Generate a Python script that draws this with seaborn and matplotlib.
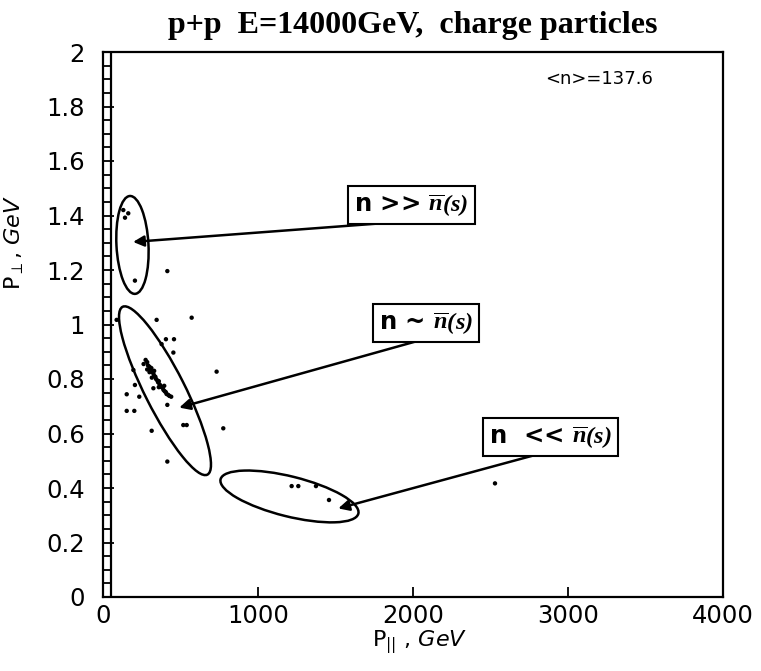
import numpy as np
import pandas as pd
import seaborn as sns
import matplotlib
matplotlib.use("Agg")
import matplotlib.pyplot as plt
from matplotlib.patches import Ellipse
import matplotlib.transforms as mtransforms

# ---------------- data ----------------
# scattered individual particles (P_par GeV, P_perp GeV)
p_par = [131, 142, 163, 415, 206,
         88, 346, 572, 406, 458, 378, 454, 733,
         196, 206, 153, 234, 325, 415, 153, 202, 518, 540, 776, 314, 415,
         1217, 1260, 1374, 1458, 2529,
         275, 285, 290, 300, 305, 312, 318, 325, 330, 338, 342, 350, 355, 360,
         365, 372, 378, 385, 390, 398, 405, 410, 420, 428, 440,
         300, 330, 360, 395, 262, 285, 315]
p_perp = [1.420, 1.392, 1.408, 1.196, 1.161,
          1.017, 1.017, 1.025, 0.946, 0.946, 0.928, 0.897, 0.827,
          0.833, 0.778, 0.744, 0.735, 0.766, 0.705, 0.683, 0.683, 0.631, 0.631, 0.619, 0.610, 0.497,
          0.407, 0.407, 0.407, 0.356, 0.417,
          0.870, 0.862, 0.850, 0.845, 0.835, 0.840, 0.826, 0.820, 0.812, 0.808, 0.800, 0.795, 0.788, 0.792,
          0.780, 0.775, 0.770, 0.768, 0.760, 0.755, 0.752, 0.745, 0.742, 0.738, 0.735,
          0.825, 0.830, 0.770, 0.775, 0.855, 0.835, 0.805]

# dense band of particles at very small P_par
band_par = [50, 50]
band_perp = [0.0, 2.0]

x_ticks = [0, 1000, 2000, 3000, 4000]
x_tick_labels = ["0", "1000", "2000", "3000", "4000"]
y_ticks = [0, 0.2, 0.4, 0.6, 0.8, 1.0, 1.2, 1.4, 1.6, 1.8, 2.0]
y_tick_labels = ["0", "0.2", "0.4", "0.6", "0.8", "1", "1.2", "1.4", "1.6", "1.8", "2"]

# annotation groups: label, box centre, arrow tail, arrow head, ellipse centre, ellipse (w, h, angle) in px
groups = ["n >> ", "n ~ ", "n  << "]
box_x = [1990, 2082, 2887]
box_y = [1.440, 1.006, 0.587]
tail_x = [1903, 2013, 2787]
tail_y = [1.376, 0.937, 0.521]
head_x = [194, 492, 1518]
head_y = [1.303, 0.695, 0.325]
ell_x = [190, 400, 1203]
ell_y = [1.292, 0.757, 0.369]
ell_w = [98, 188, 142]
ell_h = [32, 40, 40]
ell_a = [93, -63.2, -14]

mean_n = "<n>=137.6"

# ---------------- plot ----------------
sns.set_style("ticks")
plt.rcParams["font.family"] = ["DejaVu Sans"]
plt.rcParams["mathtext.fontset"] = "custom"
plt.rcParams["mathtext.rm"] = "DejaVu Sans"
plt.rcParams["mathtext.it"] = "DejaVu Sans:italic"
plt.rcParams["mathtext.cal"] = "Liberation Serif:italic:bold"
for k in ["text.color", "axes.labelcolor", "xtick.color", "ytick.color", "axes.edgecolor"]:
    plt.rcParams[k] = "black"

fig = plt.figure(figsize=(7.61, 6.71), dpi=100)
ax = fig.add_axes([103 / 761, 1 - 597 / 671, 620 / 761, 545 / 671])

df = pd.DataFrame({"ppar": p_par, "pperp": p_perp})
sns.scatterplot(data=df, x="ppar", y="pperp", ax=ax, color="black",
                s=10, edgecolor="none", linewidth=0, zorder=3)
sns.lineplot(x=band_par, y=band_perp, ax=ax, color="black", lw=1.6,
             estimator=None, sort=False)

ax.set_xlim(0, 4000)
ax.set_ylim(0, 2)
ax.set_xticks(x_ticks)
ax.set_xticklabels(x_tick_labels)
ax.set_yticks(y_ticks)
ax.set_yticklabels(y_tick_labels)
ax.set_yticks(np.arange(0, 2.0001, 0.05), minor=True)
ax.tick_params(axis="x", which="major", direction="in", length=7, width=1.3,
               labelsize=17.5, pad=5, top=False)
ax.tick_params(axis="y", which="major", direction="in", length=8, width=1.3,
               labelsize=17.5, pad=13, right=False)
ax.tick_params(axis="y", which="minor", direction="in", length=5.5, width=1.3,
               right=False)
for s in ax.spines.values():
    s.set_linewidth(1.6)
    s.set_color("black")

ax.set_xlabel(r"P$_{||}$ , $\it{GeV}$", fontsize=16)
ax.xaxis.set_label_coords(0.51, -0.058)
ax.set_ylabel(r"P$_{\perp}$, $\it{GeV}$", fontsize=16)
ax.yaxis.set_label_coords(-0.125, 0.65)

ax.set_title("p+p  E=14000GeV,  charge particles", fontsize=23,
             fontweight="bold", family="Liberation Serif", pad=14)

ax.text(0.80, 0.95, mean_n, transform=ax.transAxes, fontsize=13,
        ha="center", va="center")

for i, g in enumerate(groups):
    ax.annotate("", xy=(head_x[i], head_y[i]), xytext=(tail_x[i], tail_y[i]),
                arrowprops=dict(arrowstyle="-|>", lw=1.8, color="black",
                                mutation_scale=16, shrinkA=0, shrinkB=0),
                zorder=4)
    ax.text(box_x[i], box_y[i], g + r"$\overline{\mathcal{n}}\mathcal{(s)}$",
            fontsize=17.5, fontweight="bold", ha="center", va="center", zorder=5,
            bbox=dict(boxstyle="square,pad=0.25", fc="white", ec="black", lw=1.5))
    tr = mtransforms.Affine2D().scale(fig.dpi / 100.0) + \
        mtransforms.ScaledTranslation(ell_x[i], ell_y[i], ax.transData)
    ax.add_patch(Ellipse((0, 0), ell_w[i], ell_h[i], angle=ell_a[i],
                         transform=tr, fill=False, ec="black", lw=1.8, zorder=4))

fig.savefig("out.png", dpi=100)
